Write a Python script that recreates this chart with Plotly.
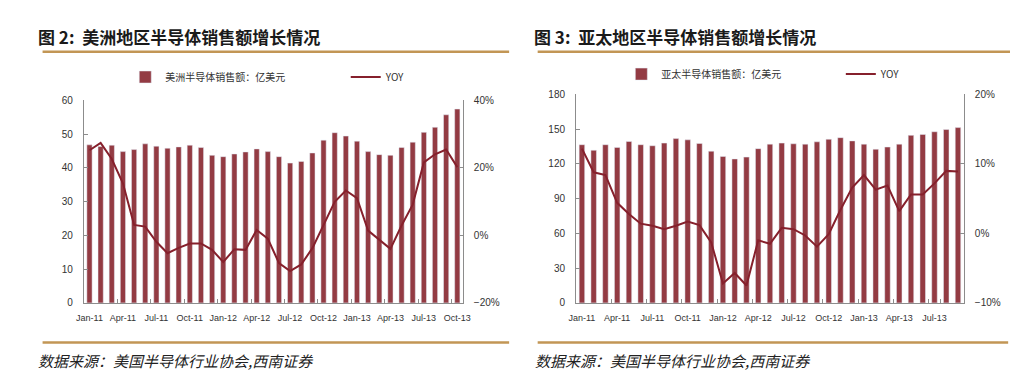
import plotly.graph_objects as go
import pandas as pd

W, H = 1018, 392

# ---- data ----
months_us = [d.strftime("%b-%y") for d in pd.date_range("2011-01-01", "2013-10-01", freq="MS")]
months_ap = [d.strftime("%b-%y") for d in pd.date_range("2011-01-01", "2013-09-01", freq="MS")]

us_sales = [46.8, 46.3, 46.7, 44.8, 45.4, 47.1, 46.4, 45.8, 46.2, 46.7, 46.0, 43.7,
            43.3, 44.1, 44.7, 45.6, 44.8, 43.3, 41.4, 41.9, 44.4, 48.2, 50.4, 49.4,
            47.9, 44.8, 43.9, 43.7, 46.0, 47.6, 50.5, 52.0, 55.7, 57.4]
us_yoy = [25.2, 27.4, 22.6, 15.4, 3.1, 2.6, -1.9, -5.3, -3.7, -2.4, -2.4, -4.3,
          -7.9, -4.1, -4.3, 1.6, -1.0, -8.2, -10.6, -8.6, -3.8, 2.9, 9.9, 13.3,
          11.0, 1.4, -1.4, -4.0, 2.9, 9.1, 21.6, 24.0, 25.4, 20.2]

ap_sales = [136.6, 131.8, 136.6, 134.3, 139.4, 136.6, 135.7, 138.0, 141.9, 140.8, 137.7, 131.0,
            126.5, 124.3, 125.9, 133.2, 137.1, 138.0, 137.4, 137.1, 139.1, 141.3, 142.7, 139.9,
            137.1, 132.7, 134.6, 137.1, 144.7, 145.5, 147.8, 149.7, 151.4]
ap_yoy = [12.2, 8.8, 8.4, 4.4, 2.8, 1.4, 1.1, 0.6, 1.1, 1.7, 1.2, -1.3,
          -7.2, -5.7, -7.5, -1.0, -1.5, 0.8, 0.6, -0.3, -1.9, -0.1, 3.4, 6.6,
          8.4, 6.3, 6.9, 3.2, 5.6, 5.6, 7.2, 9.0, 8.9]

title_us = "图 2:  美洲地区半导体销售额增长情况"
title_ap = "图 3:  亚太地区半导体销售额增长情况"
legend_us = "美洲半导体销售额：亿美元"
legend_ap = "亚太半导体销售额：亿美元"
source = "数据来源：美国半导体行业协会,西南证券"

BAR = "#933B43"
LINE = "#86202C"
GOLD = "#C29655"
AXIS = "#8C8C8C"
TXT = "#333333"
NUM_FONT = "Liberation Sans"
CJK = "Noto Sans CJK SC"


def px(x):
    return x / W


def py(y):
    return 1 - y / H


fig = go.Figure()

fig.add_trace(go.Bar(x=months_us, y=us_sales, name=legend_us, marker_color=BAR,
                     xaxis="x", yaxis="y", legend="legend", showlegend=True))
fig.add_trace(go.Scatter(x=months_us, y=[v / 100 for v in us_yoy], name="YOY", mode="lines",
                         line=dict(color=LINE, width=2), xaxis="x", yaxis="y2", legend="legend2",
                         showlegend=True))
fig.add_trace(go.Bar(x=months_ap, y=ap_sales, name=legend_ap, marker_color=BAR,
                     xaxis="x2", yaxis="y3", legend="legend3", showlegend=True))
fig.add_trace(go.Scatter(x=months_ap, y=[v / 100 for v in ap_yoy], name="YOY", mode="lines",
                         line=dict(color=LINE, width=2), xaxis="x2", yaxis="y4", legend="legend4",
                         showlegend=True))

tickfont_x = dict(family=NUM_FONT, size=9, color=TXT)
tickfont_y = dict(family=NUM_FONT, size=10, color=TXT)

xcommon = dict(type="category", showline=True, linecolor=AXIS, linewidth=1,
               ticks="inside", ticklen=4, tickcolor=AXIS, tickson="boundaries",
               showgrid=False, tickfont=tickfont_x, ticklabelstandoff=6, zeroline=False,
               tickangle=0)
ycommon = dict(showline=True, linecolor=AXIS, linewidth=1, ticks="inside", ticklen=4,
               tickcolor=AXIS, showgrid=False, zeroline=False, tickfont=tickfont_y,
               ticklabelstandoff=8)

yb, yt_us, yt_ap = py(298), py(89), py(83)

fig.update_layout(
    width=W, height=H, margin=dict(l=0, r=0, t=0, b=0),
    paper_bgcolor="white", plot_bgcolor="white",
    bargap=0.53, showlegend=True,
    xaxis=dict(domain=[px(69), px(454)], anchor="y",
               tickmode="array", tickvals=months_us[::3], **xcommon),
    yaxis=dict(domain=[yb, yt_us], anchor="x", range=[0, 60], dtick=10, **ycommon),
    yaxis2=dict(domain=[yb, yt_us], anchor="x", overlaying="y", side="right",
                range=[-0.2, 0.4], dtick=0.2, tickformat=".0%", **ycommon),
    xaxis2=dict(domain=[px(569), px(963)], anchor="y3",
                tickmode="array", tickvals=months_ap[::3], **xcommon),
    yaxis3=dict(domain=[yb, yt_ap], anchor="x2", range=[0, 180], dtick=30, **ycommon),
    yaxis4=dict(domain=[yb, yt_ap], anchor="x2", overlaying="y3", side="right",
                range=[-0.1, 0.2], dtick=0.1, tickformat=".0%", **ycommon),
)

legfont = dict(family=CJK, size=10, color=TXT)
for name, x, y in [("legend", 111, 65), ("legend2", 335, 65), ("legend3", 615, 62), ("legend4", 838, 62)]:
    fig.update_layout({name: dict(x=px(x), y=py(y), xanchor="left", yanchor="middle",
                                  bgcolor="rgba(0,0,0,0)", font=legfont,
                                  orientation="h", itemwidth=30, visible=True)})

# titles and source notes
for txt, x in [(title_us, 20), (title_ap, 524)]:
    fig.add_annotation(text=txt, x=px(x), y=py(23), xref="paper", yref="paper",
                       xanchor="left", yanchor="middle", showarrow=False,
                       font=dict(family=CJK, size=17, color="#1a1a1a", weight="bold"))
for x in [20, 525]:
    fig.add_annotation(text=source, x=px(x), y=py(357), xref="paper", yref="paper",
                       xanchor="left", yanchor="middle", showarrow=False,
                       font=dict(family=CJK, size=15, color="#222222", style="italic"))

# gold rules
for x0, x1, y in [(27, 501, 39), (530, 1012, 39), (27, 501, 339), (530, 1008, 339)]:
    fig.add_shape(type="line", xref="paper", yref="paper", x0=px(x0), x1=px(x1),
                  y0=py(y), y1=py(y), line=dict(color=GOLD, width=2.5))

fig.write_html("out.html")
